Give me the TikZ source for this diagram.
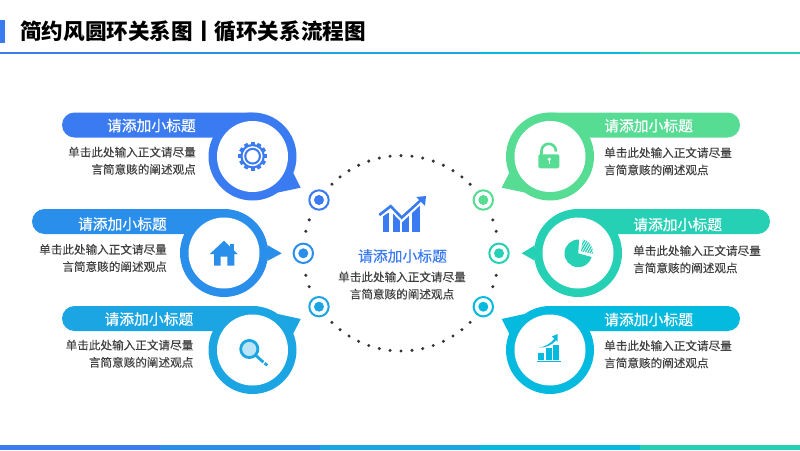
\documentclass[tikz,border=0pt]{standalone}
\usepackage{fontspec}
\usepackage{xcolor}
\usetikzlibrary{calc, patterns.meta}
\newfontfamily\cjk{Noto Sans CJK SC}
\newfontfamily\cjkhead[FakeBold=0.4]{Noto Sans CJK SC}
\newfontfamily\cjkbody[FakeBold=0.25]{Noto Sans CJK SC}

\definecolor{blueA}{HTML}{3B7BF2}
\definecolor{blueB}{HTML}{2A8EEB}
\definecolor{blueC}{HTML}{1BA6E3}
\definecolor{cyanA}{HTML}{05BADF}
\definecolor{tealA}{HTML}{25D0B5}
\definecolor{greenA}{HTML}{57DC94}
\definecolor{bodygray}{HTML}{404040}

\tikzset{
  headtext/.style={font=\cjkhead\fontsize{14.8}{17}\selectfont, inner sep=0pt},
  bodytext/.style={font=\cjkbody\fontsize{11.6}{17.2}\selectfont, text=bodygray, inner sep=0pt},
  ringnode/.style={circle, draw=#1, fill=white, line width=2pt, inner sep=0pt, minimum size=19.4pt},
}

\begin{document}
\begin{tikzpicture}[x=1pt, y=-1pt]
  \useasboundingbox (0, 0) rectangle (800, 450);

  % title
  \fill[blueA] (0, 20) rectangle (5.3, 43);
  \node[font=\cjk\bfseries\fontsize{21.6}{24}\selectfont, anchor=west, inner sep=0pt] (title) at (20, 31) {简约风圆环关系图丨循环关系流程图};

  % top line and bottom bar
  \foreach \i/\col in {0/blueA, 1/blueB, 2/blueC, 3/cyanA, 4/tealA} {
    \fill[\col] (160*\i, 52) rectangle (160*\i+160.5, 54);
    \fill[\col] (160*\i, 444.5) rectangle (160*\i+160.5, 450);
  }

  % dotted circle
  \coordinate (mid) at (401, 253.3);
  \foreach \k in {0, ..., 14} {
    \fill[black!80] (mid) ++({-135+\k*90/14}:97.7) circle (1.7);
    \fill[black!80] (mid) ++({45+\k*90/14}:97.7) circle (1.7);
  }
  \foreach \a in {160, 167, 193, 200, -13, -20, 13, 20} {
    \fill[black!80] (mid) ++(\a:97.7) circle (1.7);
  }

  % rings on the circle
  \foreach \name/\x/\y/\col in {ringa/319/200/blueA, ringb/303.3/253.3/blueB, ringc/319/306.7/blueC, ringd/483.3/200/greenA, ringe/499/253.3/tealA, ringf/483.3/306.7/cyanA} {
    \node[ringnode=\col] (\name) at (\x, \y) {};
    \fill[\col] (\name) circle (5);
  }

  % the six balloons
  \foreach \name/\cx/\cy/\px/\pe/\tx/\ty/\a/\b/\col in {
    a/252.5/156.5/62/265/300.7/187.7/22/55/blueA,
    b/224/253/32/236.5/281.7/253.3/-10.5/10.5/blueB,
    c/252.5/350/62/265/300.7/319/-22/-55/blueC,
    d/550/156.5/740/537.5/501.7/187.7/158/125/greenA,
    e/578/253/770/565.5/521.7/253.3/170/190/tealA,
    f/550/350/740/537.5/501.7/319/202/235/cyanA} {
    \coordinate (c\name) at (\cx, \cy);
    \fill[\col, rounded corners=12.5pt] (\px, \cy-44) rectangle (\pe, \cy-19);
    \fill[\col] (\tx, \ty) -- ($(c\name)+(\a:44)$) -- ($(c\name)+(\b:44)$) -- cycle;
    \fill[\col] (c\name) circle (44);
    \fill[white] (c\name) circle (35.5);
  }

  % texts
  \foreach \name/\x/\yh/\yb/\side/\just in {
    a/196/125.5/160.7/east/right,
    b/167/224/258/east/right,
    c/193.5/319/353.7/east/right,
    d/604/125.7/161.3/west/left,
    e/633/224.5/259.3/west/left,
    f/604/319.5/354.3/west/left} {
    \node[headtext, text=white, anchor=\side] (head\name) at (\x, \yh) {请添加小标题};
    \node[bodytext, anchor=\side, align=\just] (body\name) at (\x, \yb) {单击此处输入正文请尽量\\言简意赅的阐述观点};
  }
  \node[headtext, text=blueA] (headmid) at (402.5, 256) {请添加小标题};
  \node[bodytext, align=center] (bodymid) at (402, 285.5) {单击此处输入正文请尽量\\言简意赅的阐述观点};

  % chart in the middle
  \fill[blueA] (382.7, 213) rectangle (389.3, 231.7);
  \fill[blueA] (392.7, 207) rectangle (400, 231.7);
  \fill[blueA] (402.3, 213) rectangle (409.3, 231.7);
  \fill[blueA] (411.7, 205) rectangle (420, 231.7);
  \fill[white] (379, 208) -- (390.7, 198) -- (401.7, 209) -- (421, 190) -- (430, 190) -- (430, 196) -- (401.7, 222.5) -- (390.7, 211) -- (379, 219) -- cycle;
  \draw[blueA, line width=2.6pt] (379.3, 215) -- (390.7, 206.2) -- (401.7, 217.6) -- (421, 200);
  \fill[blueA] (426, 196) -- (416.3, 197) -- (425, 206) -- cycle;

  % gear
  \coordinate (gear) at (252.6, 156.2);
  \foreach \a in {0, 30, ..., 330} {
    \fill[blueA, rotate around={\a:(gear)}] (250.6, 141.9) rectangle (254.6, 146);
  }
  \fill[blueA] (gear) circle (12.3);
  \fill[white] (gear) circle (10);
  \fill[blueA] (gear) circle (8.4);
  \fill[white] (gear) circle (6.2);

  % house
  \fill[blueB] (230, 244) rectangle (234.3, 252);
  \fill[blueB] (224, 240.7) -- (237.6, 254) -- (234.3, 254) -- (234.3, 265.7) -- (227.3, 265.7) -- (227.3, 256.7) -- (220.7, 256.7) -- (220.7, 265.7) -- (214, 265.7) -- (214, 254) -- (209.8, 254) -- cycle;

  % magnifier
  \fill[blueC!30] (249.3, 349) circle (8);
  \draw[blueC, line width=2.8pt] (249.3, 349) circle (8.6);
  \draw[blueC, line width=2.8pt] (255.6, 355.3) -- (263.4, 362.2);
  \draw[blueC, line width=2.8pt] (264.6, 363.2) -- (267.3, 365.4);

  % lock
  \draw[greenA, line width=2.6pt] (541.5, 155) -- (541.5, 151) arc (180:360:7.2) -- (555.9, 151.5);
  \fill[greenA, rounded corners=1.5pt] (538.3, 154.3) rectangle (559.3, 168.3);
  \fill[white] (549.3, 159.3) circle (1.8);
  \fill[white] (548.7, 159.3) rectangle (549.9, 163.5);

  % pie
  \coordinate (pie) at (578.3, 253.4);
  \fill[tealA] (pie) -- ++(-87:13.8) arc (-87:-345:13.8) -- cycle;
  \fill[tealA] (580.2, 251.7) -- ++(-80:13.2) arc (-80:12:13.2) -- cycle;
  \draw[white, line width=0.9pt, pattern={Lines[angle=60, distance=2.2pt, line width=0.7pt]}, pattern color=white] (580.2, 251.7) -- ++(-80:13.2) arc (-80:12:13.2) -- cycle;

  % small chart
  \fill[cyanA] (538, 352.7) rectangle (544.3, 360);
  \fill[cyanA] (546, 348.3) rectangle (552, 360);
  \fill[cyanA] (553, 345) rectangle (559.3, 360);
  \fill[cyanA] (537.3, 361.2) rectangle (560.7, 362.2);
  \fill[cyanA] (539.3, 347.6) .. controls (546, 346.5) and (551, 343) .. (554.4, 338.7) -- (556.3, 340.1) .. controls (552, 345) and (546, 347.8) .. (539.3, 347.6) -- cycle;
  \fill[cyanA] (557.7, 334) -- (551.8, 336.5) -- (557.6, 341.5) -- cycle;
\end{tikzpicture}
\end{document}
